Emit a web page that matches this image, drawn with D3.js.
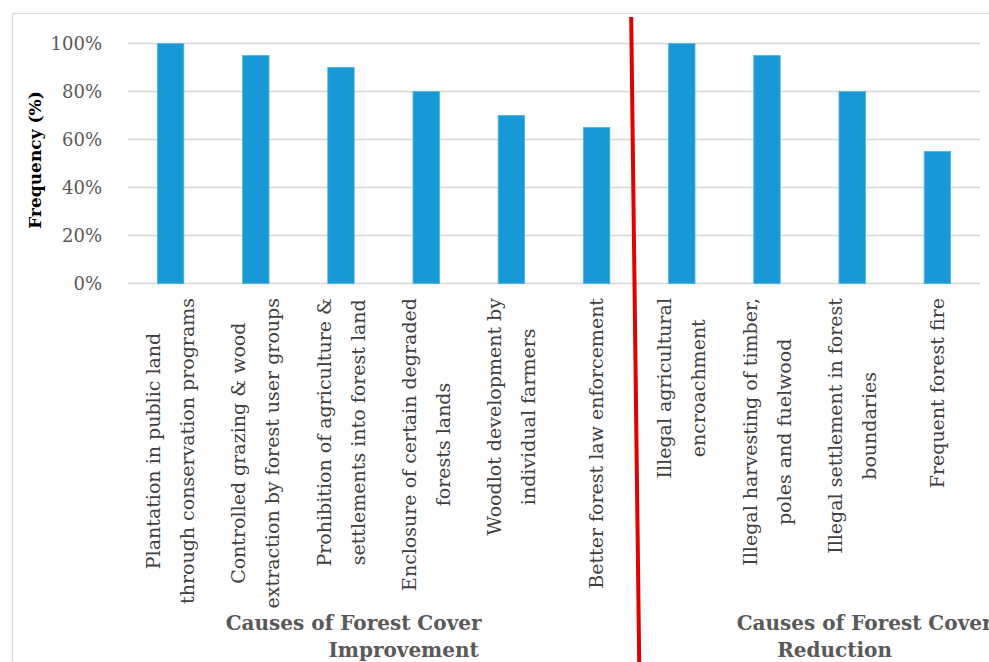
<!DOCTYPE html>
<html>
<head>
<meta charset="utf-8">
<script src="https://cdn.jsdelivr.net/npm/d3@7/dist/d3.min.js"></script>
<style>
  body { margin: 0; background: #fff; }
  svg { display: block; font-family: "DejaVu Serif", serif; }
</style>
</head>
<body>
<script>
// data
var labels = [
  ["Plantation in public land", "through conservation programs"],
  ["Controlled grazing & wood", "extraction by forest user groups"],
  ["Prohibition of agriculture &", "settlements into forest land"],
  ["Enclosure of certain degraded", "forests lands"],
  ["Woodlot development by", "individual farmers"],
  ["Better forest law enforcement"],
  ["Illegal agricultural", "encroachment"],
  ["Illegal harvesting of timber,", "poles and fuelwood"],
  ["Illegal settlement in forest", "boundaries"],
  ["Frequent forest fire"]
];
var values = [100, 95, 90, 80, 70, 65, 100, 95, 80, 55];
var yTicks = [0, 20, 40, 60, 80, 100];
var groupTitles = [
  ["Causes of Forest Cover", "Improvement"],
  ["Causes of Forest Cover", "Reduction"]
];
var groupSizes = [6, 4];

var width = 989, height = 662;
var margin = {top: 43.5, left: 128, right: 9, bottom: 378.5};

var svg = d3.select("body").append("svg")
    .attr("width", width)
    .attr("height", height);

// chart area border
svg.append("rect")
    .attr("x", 12.5).attr("y", 13.5)
    .attr("width", 1000).attr("height", 700)
    .attr("fill", "none")
    .attr("stroke", "#d9d9d9")
    .attr("stroke-width", 1.2);

var ids = labels.map(function(d, i) { return i; });

var x = d3.scaleBand()
    .domain(ids)
    .range([margin.left, width - margin.right])
    .paddingInner(0.69)
    .paddingOuter(0.345);

var y = d3.scaleLinear()
    .domain([0, 100])
    .range([height - margin.bottom, margin.top]);

// gridlines
svg.append("g")
  .selectAll("line")
  .data(yTicks)
  .enter().append("line")
    .attr("x1", margin.left)
    .attr("x2", width - margin.right)
    .attr("y1", function(d) { return y(d); })
    .attr("y2", function(d) { return y(d); })
    .attr("stroke", "#d6d6d6")
    .attr("stroke-width", 1.5);

// tick labels
svg.append("g")
  .selectAll("text")
  .data(yTicks)
  .enter().append("text")
    .attr("x", 102)
    .attr("y", function(d) { return y(d); })
    .attr("dy", "0.36em")
    .attr("text-anchor", "end")
    .attr("fill", "#595959")
    .style("font-size", "18px")
    .text(function(d) { return d + "%"; });

// y title
svg.append("text")
    .attr("transform", "translate(41,160) rotate(-90)")
    .attr("text-anchor", "middle")
    .attr("fill", "#000")
    .style("font-size", "17px")
    .style("font-weight", "bold")
    .text("Frequency (%)");

// bars
svg.append("g")
  .selectAll("rect")
  .data(values)
  .enter().append("rect")
    .attr("x", function(d, i) { return x(i); })
    .attr("width", x.bandwidth())
    .attr("y", function(d) { return y(d); })
    .attr("height", function(d) { return y(0) - y(d); })
    .attr("fill", "#1899d6")
    .attr("stroke", "#4fb2e2")
    .attr("stroke-width", 0.8);

// category labels, rotated, lines centred on each other, top at 298
var lineH = 34;
var labelTop = 298;
var cat = svg.append("g")
  .selectAll("g")
  .data(labels)
  .enter().append("g");

cat.each(function(lines, i) {
  var g = d3.select(this);
  var cx = x(i) + x.bandwidth() / 2;
  var t = g.selectAll("text")
    .data(lines)
    .enter().append("text")
      .attr("x", 0)
      .attr("y", function(d, j) { return (j - (lines.length - 1) / 2) * lineH; })
      .attr("dy", "0.35em")
      .attr("text-anchor", "middle")
      .attr("fill", "#404040")
      .style("font-size", "19px")
      .text(function(d) { return d; });
  var maxLen = d3.max(t.nodes(), function(n) { return n.getComputedTextLength(); });
  g.attr("transform", "translate(" + cx + "," + (labelTop + maxLen / 2) + ") rotate(-90)");
});

// group titles under each half
var start = 0;
var titleShift = [[-30, 20], [55, 25]];
groupTitles.forEach(function(lines, k) {
  var first = start, last = start + groupSizes[k] - 1;
  start += groupSizes[k];
  var gx = (x(first) - x.step() * x.paddingInner() / 2 + x(last) + x.bandwidth() + x.step() * x.paddingInner() / 2) / 2;
  lines.forEach(function(s, j) {
    svg.append("text")
        .attr("x", gx + titleShift[k][j])
        .attr("y", 630 + j * 27)
        .attr("text-anchor", "middle")
        .attr("fill", "#595959")
        .style("font-size", "20px")
        .style("font-weight", "bold")
        .text(s);
  });
});

// red divider between the two groups
var divX = (x(5) + x.bandwidth() + x(6)) / 2;
svg.append("line")
    .attr("x1", divX - 8).attr("y1", 17)
    .attr("x2", divX).attr("y2", height)
    .attr("stroke", "#e00000")
    .attr("stroke-width", 4);
</script>
</body>
</html>
